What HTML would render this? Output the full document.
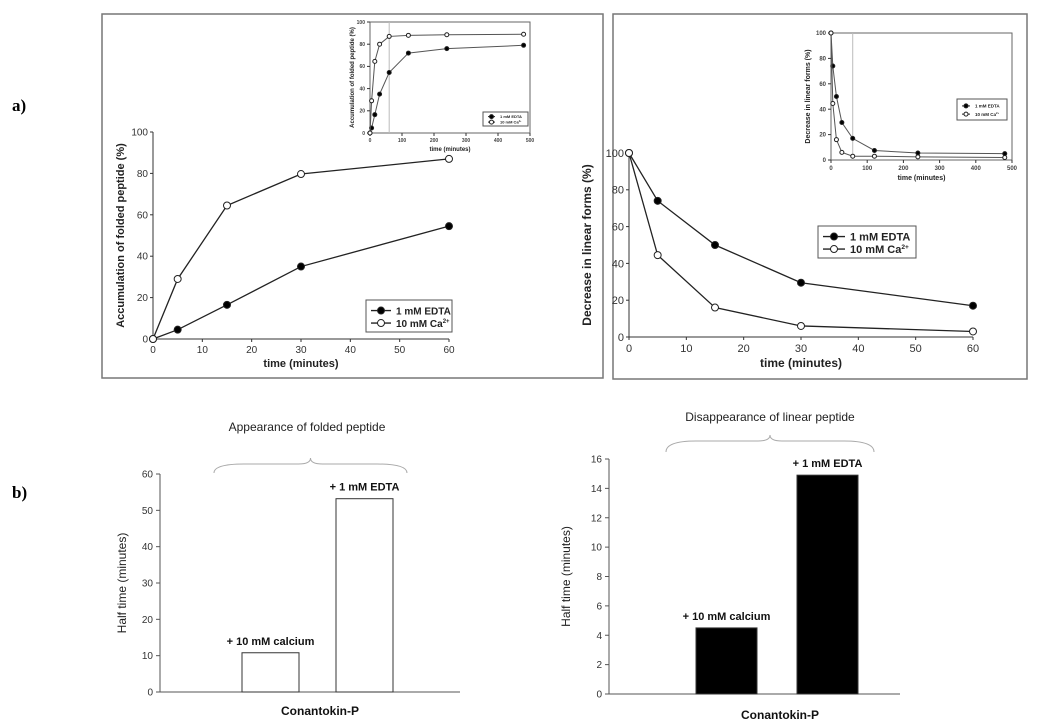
<!DOCTYPE html>
<html><head><meta charset="utf-8"><style>
body{margin:0;background:#fff}
svg{display:block;font-family:"Liberation Sans",sans-serif}
</style></head><body>
<svg id="s" width="1050" height="728" viewBox="0 0 1050 728">
<text x="12" y="111" font-family="Liberation Serif" font-weight="bold" font-size="17">a)</text>
<text x="12" y="498" font-family="Liberation Serif" font-weight="bold" font-size="17">b)</text>
<rect x="102" y="14" width="501" height="364" fill="none" stroke="#777" stroke-width="1.5"/>
<rect x="613" y="14" width="414" height="365" fill="none" stroke="#777" stroke-width="1.5"/>
</svg>
<script>
const svg=document.getElementById('s');
const NS='http://www.w3.org/2000/svg';
function mk(tag,at,txt){const e=document.createElementNS(NS,tag);for(const k in at)e.setAttribute(k,at[k]);if(txt!==undefined)e.textContent=txt;svg.appendChild(e);return e;}

// ---- data ----
const tMain=[0,5,15,30,60];
const tInset=[0,5,15,30,60,120,240,480];
const foldEdta=[0,4.5,16.5,35,54.5];
const foldCa=[0,29,64.5,79.7,87];
const foldEdtaInset=[0,4.5,16.5,35,54.5,72,76,79];
const foldCaInset=[0,29,64.5,80,87,88,88.5,89];
const linEdta=[100,74,50,29.5,17];
const linCa=[100,44.5,16,6,3];
const linEdtaInset=[100,74,50,29.5,17,7.5,5.5,5];
const linCaInset=[100,44.5,16,6,3,3,2.5,2];
const xTicksMain=[0,10,20,30,40,50,60];
const yTicksMain=[0,20,40,60,80,100];
const xTicksInset=[0,100,200,300,400,500];
const barCats=['+ 10 mM calcium','+ 1 mM EDTA'];
const barFold=[10.8,53.2];
const barLin=[4.5,14.9];
const yTicksBarFold=[0,10,20,30,40,50,60];
const yTicksBarLin=[0,2,4,6,8,10,12,14,16];

function linePlot(o){
  const sx=v=>o.x0+(v-o.xmin)/(o.xmax-o.xmin)*(o.x1-o.x0);
  const sy=v=>o.y0-(v-o.ymin)/(o.ymax-o.ymin)*(o.y0-o.y1);
  const fs=o.fs, col=o.inset?'#444':'#333';
  if(o.inset){
    let r=mk('rect',{x:o.x0,y:o.y1,width:o.x1-o.x0,height:o.y0-o.y1,fill:'none',stroke:'#666','stroke-width':1});
    
    let v=mk('line',{x1:sx(60),x2:sx(60),y1:o.y1,y2:o.y0,stroke:'#bbb','stroke-width':1});
    
  } else {
    let a=mk('line',{x1:o.x0,x2:o.x0,y1:o.y1,y2:o.y0,stroke:'#333'});
    
    let b=mk('line',{x1:o.x0,x2:o.x1,y1:o.y0,y2:o.y0,stroke:'#333'});
    
  }
  o.xt.forEach(t=>{
    mk('line',{x1:sx(t),x2:sx(t),y1:o.y0,y2:o.y0+3,stroke:'#333'});
    let e=mk('text',{x:sx(t),y:o.y0+fs+4,'font-size':fs,'text-anchor':'middle',fill:col,'font-weight':o.inset?'bold':'normal'},t);
    
  });
  o.yt.forEach(t=>{
    mk('line',{x1:o.x0-3,x2:o.x0,y1:sy(t),y2:sy(t),stroke:'#333'});
    let e=mk('text',{x:o.x0-5,y:sy(t)+fs*0.35,'font-size':fs,'text-anchor':'end',fill:col,'font-weight':o.inset?'bold':'normal'},t);
    
  });
  let xt=mk('text',{x:(o.x0+o.x1)/2,y:o.y0+fs*2+8,'font-size':o.tfs,'font-weight':'bold','text-anchor':'middle',fill:'#222'},'time (minutes)');
  
  let yx=o.ytx, yy=(o.y0+o.y1)/2;
  let yt=mk('text',{x:yx,y:yy,'font-size':o.tfs,'font-weight':'bold','text-anchor':'middle',fill:'#222',transform:`rotate(-90 ${yx} ${yy})`},o.ytitle);
  
  const sw=o.inset?1:1.3, r=o.inset?2:3.5, lc=o.inset?'#555':'#222';
  o.series.forEach((s,si)=>{
    const pts=s.t.map((t,i)=>sx(t)+','+sy(s.v[i])).join(' ');
    let p=mk('polyline',{points:pts,fill:'none',stroke:lc,'stroke-width':sw});
    
    s.t.forEach((t,i)=>{
      let c=mk('circle',{cx:sx(t),cy:sy(s.v[i]),r:r,fill:s.filled?'#000':'#fff',stroke:'#222','stroke-width':1});
      
    });
  });
  const L=o.leg;
  let lb=mk('rect',{x:L.x,y:L.y,width:L.w,height:L.h,fill:'#fff',stroke:'#555','stroke-width':1});
  
  const labels=['1 mM EDTA','10 mM Ca'];
  [0,1].forEach(i=>{
    const yy=L.y+L.h*(i==0?0.33:0.72);
    mk('line',{x1:L.x+5,x2:L.x+L.lw,y1:yy,y2:yy,stroke:'#222','stroke-width':sw});
    mk('circle',{cx:L.x+5+(L.lw-5)/2,cy:yy,r:r,fill:i==0?'#000':'#fff',stroke:'#222'});
    let t=mk('text',{x:L.x+L.lw+5,y:yy+L.fs*0.38,'font-size':L.fs,'font-weight':'bold',fill:'#222'},labels[i]);
    if(i==1){const ts=document.createElementNS(NS,'tspan');ts.setAttribute('dy',-L.fs*0.4);ts.setAttribute('font-size',L.fs*0.6);ts.textContent='2+';t.appendChild(ts);}
    
  });
}

linePlot({name:'fold-main',x0:153,x1:449,y0:339,y1:132,xmin:0,xmax:60,ymin:0,ymax:100,xt:xTicksMain,yt:yTicksMain,fs:10,tfs:11,ytx:124,ytitle:'Accumulation of folded peptide (%)',
 series:[{key:'edta',t:tMain,v:foldEdta,filled:true},{key:'ca',t:tMain,v:foldCa,filled:false}],
 leg:{x:366,y:300,w:86,h:32,lw:25,fs:10}});
linePlot({name:'fold-inset',inset:true,x0:370,x1:530,y0:133,y1:22,xmin:0,xmax:500,ymin:0,ymax:100,xt:xTicksInset,yt:yTicksMain,fs:5,tfs:6,ytx:354,ytitle:'Accumulation of folded peptide (%)',
 series:[{key:'edta',t:tInset,v:foldEdtaInset,filled:true},{key:'ca',t:tInset,v:foldCaInset,filled:false}],
 leg:{x:483,y:112,w:45,h:14,lw:12,fs:4}});
linePlot({name:'linear-main',x0:629,x1:973,y0:337,y1:153,xmin:0,xmax:60,ymin:0,ymax:100,xt:xTicksMain,yt:yTicksMain,fs:11,tfs:12,ytx:591,ytitle:'Decrease in linear forms (%)',
 series:[{key:'edta',t:tMain,v:linEdta,filled:true},{key:'ca',t:tMain,v:linCa,filled:false}],
 leg:{x:818,y:226,w:98,h:32,lw:27,fs:11}});
linePlot({name:'linear-inset',inset:true,x0:831,x1:1012,y0:160,y1:33,xmin:0,xmax:500,ymin:0,ymax:100,xt:xTicksInset,yt:yTicksMain,fs:6,tfs:7,ytx:810,ytitle:'Decrease in linear forms (%)',
 series:[{key:'edta',t:tInset,v:linEdtaInset,filled:true},{key:'ca',t:tInset,v:linCaInset,filled:false}],
 leg:{x:957,y:99,w:50,h:21,lw:13,fs:4.5}});

function barPlot(o){
  const sy=v=>o.y0-v/o.ymax*(o.y0-o.y1);
  let a=mk('line',{x1:o.x0,x2:o.x0,y1:o.y1,y2:o.y0,stroke:'#555'});
  
  let b=mk('line',{x1:o.x0,x2:o.x1,y1:o.y0,y2:o.y0,stroke:'#555'});
  
  o.yt.forEach(t=>{
    mk('line',{x1:o.x0-4,x2:o.x0,y1:sy(t),y2:sy(t),stroke:'#555'});
    let e=mk('text',{x:o.x0-7,y:sy(t)+3.5,'font-size':10,'text-anchor':'end',fill:'#333'},t);
    
  });
  o.vals.forEach((v,i)=>{
    const bx=o.bx[i];
    let r=mk('rect',{x:bx,y:sy(v),width:o.bw,height:o.y0-sy(v),fill:o.fill,stroke:'#333','stroke-width':1});
    
    let t=mk('text',{x:bx+o.bw/2,y:sy(v)-8,'font-size':11,'font-weight':'bold','text-anchor':'middle',fill:'#111'},barCats[i]);
    
  });
  let c=mk('text',{x:o.cx,y:o.cy,'font-size':12,'font-weight':'bold','text-anchor':'middle',fill:'#111'},'Conantokin-P');
  
  let t=mk('text',{x:o.tx,y:o.ty,'font-size':12,'text-anchor':'middle',fill:'#222'},o.title);
  
  const yy=(o.y0+o.y1)/2;
  let yt=mk('text',{x:o.ytx,y:yy,'font-size':12,'text-anchor':'middle',fill:'#222',transform:`rotate(-90 ${o.ytx} ${yy})`},'Half time (minutes)');
  
  const B=o.brace, m=(B.x0+B.x1)/2;
  let p=mk('path',{d:`M${B.x0},${B.y1} Q${B.x0},${B.y0+6} ${B.x0+30},${B.y0+6} L${m-12},${B.y0+6} Q${m},${B.y0+6} ${m},${B.y0} Q${m},${B.y0+6} ${m+12},${B.y0+6} L${B.x1-30},${B.y0+6} Q${B.x1},${B.y0+6} ${B.x1},${B.y1}`,fill:'none',stroke:'#aaa','stroke-width':1});
  
}
barPlot({name:'fold-bar',x0:160,x1:460,y0:692,y1:474,ymax:60,yt:yTicksBarFold,vals:barFold,bx:[242,336],bw:57,fill:'#fff',
 cx:320,cy:715,tx:307,ty:431,title:'Appearance of folded peptide',ytx:126,brace:{x0:214,x1:407,y0:458,y1:473}});
barPlot({name:'linear-bar',x0:609,x1:900,y0:694,y1:459,ymax:16,yt:yTicksBarLin,vals:barLin,bx:[696,797],bw:61,fill:'#000',
 cx:780,cy:719,tx:770,ty:421,title:'Disappearance of linear peptide',ytx:570,brace:{x0:666,x1:874,y0:435,y1:452}});
</script>
</body></html>
